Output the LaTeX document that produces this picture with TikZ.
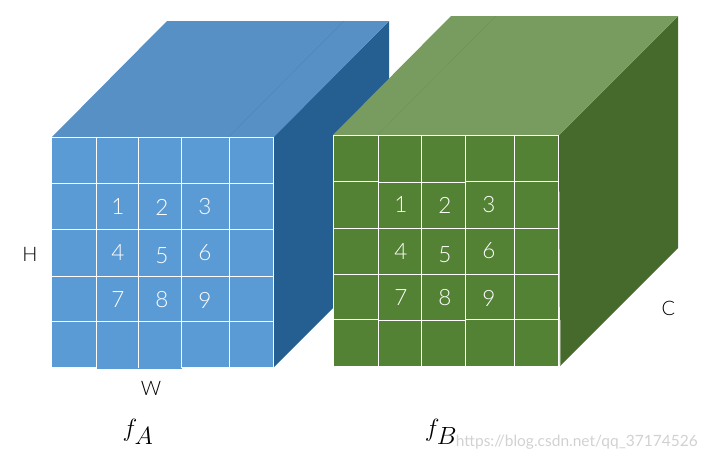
\documentclass[tikz,border=0pt]{standalone}
\usepackage{fontspec}
\setmainfont{Lato}
\usetikzlibrary{positioning}
\definecolor{bluefront}{HTML}{5B9BD5}
\definecolor{bluetop}{HTML}{5790C5}
\definecolor{blueside}{HTML}{255E91}
\definecolor{greenfront}{HTML}{548235}
\definecolor{greentop}{HTML}{789C5F}
\definecolor{greenside}{HTML}{466A2B}
\tikzset{
  gridline/.style={draw=white, line width=0.9pt},
  seamline/.style={line width=0.3pt},
  celllab/.style={font=\fontsize{22.5}{24}\selectfont\sffamily, text=white, inner sep=0pt},
  dimlab/.style={font=\fontsize{20}{22}\selectfont\sffamily, text=black, inner sep=0pt},
  maplab/.style={font=\fontsize{38}{40}\selectfont, text=black, inner sep=0pt},
  marklab/.style={font=\fontsize{15.5}{18}\selectfont, text=black!18, inner sep=0pt},
}
\setsansfont{Lato Light}
\begin{document}
\begin{tikzpicture}[x=1pt, y=-1pt]
\useasboundingbox (0,0) rectangle (707,461);
% blue block
\fill[blueside] (274,136) -- (389,21) -- (389,252) -- (274,367) -- cycle;
\fill[bluetop] (52,137) -- (167,21) -- (389,21) -- (274,137) -- cycle;
\draw[seamline, draw=blueside!25!bluetop] (229.5,136) -- (344,21);
\fill[bluefront] (52,137) rectangle (273.5,367);
\fill[bluefront] (96.5,367) rectangle (181.5,368.5);
\foreach \x in {96.5,138.5,181.5,229.5,273.5}
  \draw[gridline] (\x,137) -- (\x,367.5);
\foreach \y in {137.5,183.5,229.5,276,321}
  \draw[gridline] (52,\y) -- (273.5,\y);
\foreach \x/\y/\t in {118/207/1,162/207/2,205/207/3,118/253/4,162/256/5,205/253/6,118/300/7,162/300/8,205/300/9}
  \node[celllab] (a\t) at (\x,\y) {\t};
% green block
\fill[greenside] (559,135) -- (678,16) -- (678,248) -- (560,366) -- cycle;
\fill[greentop] (333,135) -- (451,16) -- (678,16) -- (559,135) -- cycle;
\draw[seamline, draw=greenfront!40!greentop] (378.5,134) -- (496,16);
\fill[greenfront] (333.5,134.5) rectangle (558.5,366);
\foreach \x in {378.5,421.5,465.5,514.5,558.5}
  \draw[gridline] (\x,135) -- (\x,366);
\draw[gridline] (333.5,135) -- (333.5,320);
\draw[gridline] (333.5,135.5) -- (558.5,135.5);
\foreach \xa/\xb/\ya/\yb in {333.5/378.5/181.5/319.5,378.5/465.5/182.7/320.3,465.5/558.5/181.5/319.5} {
  \draw[gridline] (\xa,\ya) -- (\xb,\ya);
  \draw[gridline] (\xa,\yb) -- (\xb,\yb);
}
\foreach \y in {228.3,274.3}
  \draw[gridline] (333.5,\y) -- (558.5,\y);
\draw[white!35!greenside, line width=0.5pt] (560.3,320) -- (560.3,366);
\foreach \x/\y/\t in {401/205/1,445/205/2,489/205/3,401/252/4,445/255/5,489/251/6,401/298/7,445/298/8,489/298/9}
  \node[celllab] (b\t) at (\x,\y) {\t};
% labels
\node[dimlab] (hlab) at (30,254) {H};
\node[dimlab] (wlab) at (151,388) {W};
\node[dimlab] (clab) at (668.5,308) {C};
\node[maplab] (fa) at (138,432) {$f_A$};
\node[maplab] (fb) at (441,432) {$f_B$};
\node[marklab, anchor=east] (mark) at (698,442) {https://blog.csdn.net/qq\_37174526};
\end{tikzpicture}
\end{document}
